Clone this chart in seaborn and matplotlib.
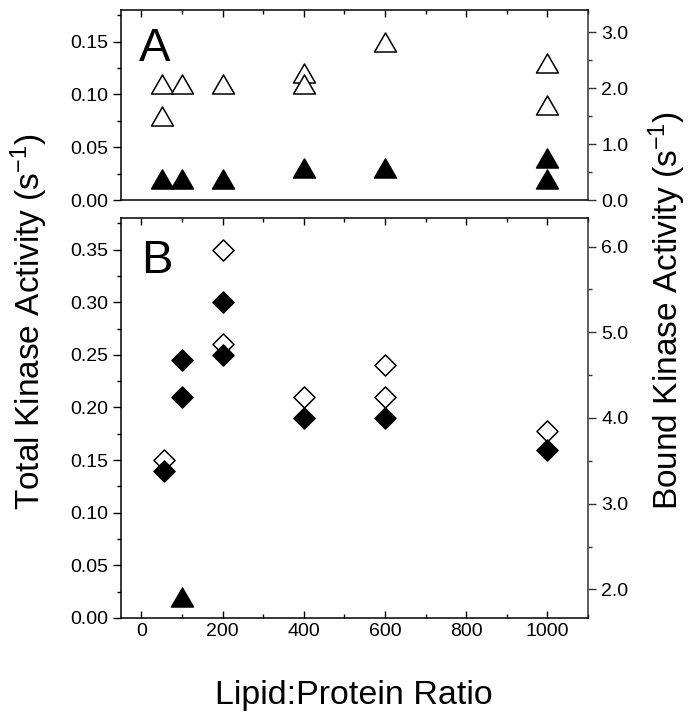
import matplotlib
matplotlib.use('Agg')
import matplotlib.pyplot as plt
import seaborn as sns
from matplotlib.path import Path
from matplotlib.ticker import MultipleLocator, FormatStrFormatter

# panel A: total kinase activity, triangles
ratio_a_open = [50, 50, 100, 200, 400, 400, 600, 1000, 1000]
total_a_open = [0.11, 0.08, 0.11, 0.11, 0.12, 0.11, 0.15, 0.13, 0.09]
ratio_a_filled = [50, 100, 200, 400, 600, 1000, 1000]
total_a_filled = [0.02, 0.02, 0.02, 0.03, 0.03, 0.04, 0.02]

# panel B: diamonds (+ one filled triangle)
ratio_b_open = [57, 200, 200, 400, 600, 600, 1000]
total_b_open = [0.15, 0.35, 0.26, 0.21, 0.24, 0.21, 0.178]
ratio_b_filled = [57, 100, 100, 200, 200, 400, 600, 1000]
total_b_filled = [0.14, 0.245, 0.21, 0.30, 0.25, 0.19, 0.19, 0.16]
ratio_b_tri = [100]
total_b_tri = [0.02]

sns.set_theme(style='ticks')
plt.rcParams['font.family'] = ['Liberation Sans', 'DejaVu Sans']
plt.rcParams['mathtext.fontset'] = 'custom'
plt.rcParams['mathtext.rm'] = 'Liberation Sans'
plt.rcParams['mathtext.it'] = 'Liberation Sans'
for k in ['text.color', 'axes.labelcolor', 'xtick.color', 'ytick.color', 'axes.edgecolor']:
    plt.rcParams[k] = 'black'

tri = Path([(-1, -0.866), (1, -0.866), (0, 0.866), (-1, -0.866)], closed=True)
right_col = '#333333'

fig = plt.figure(figsize=(6.96, 7.2), dpi=100)
ax_a = fig.add_axes([0.1739, 0.7222, 0.6709, 0.2639])
ax_b = fig.add_axes([0.1739, 0.1417, 0.6709, 0.5555])

sns.scatterplot(x=ratio_a_open, y=total_a_open, ax=ax_a, marker=tri, s=250,
                color='white', edgecolor='black', linewidth=1.1, zorder=3)
sns.scatterplot(x=ratio_a_filled, y=total_a_filled, ax=ax_a, marker=tri, s=250,
                color='black', edgecolor='black', linewidth=1.1, zorder=3)

sns.scatterplot(x=ratio_b_open, y=total_b_open, ax=ax_b, marker='D', s=115,
                color='white', edgecolor='black', linewidth=1.1, zorder=3)
sns.scatterplot(x=ratio_b_filled, y=total_b_filled, ax=ax_b, marker='D', s=115,
                color='black', edgecolor='black', linewidth=1.1, zorder=3)
sns.scatterplot(x=ratio_b_tri, y=total_b_tri, ax=ax_b, marker=tri, s=250,
                color='black', edgecolor='black', linewidth=1.1, zorder=3)

for ax, ylim, rlim in [(ax_a, (0, 0.18), (0, 3.4)),
                       (ax_b, (0, 0.38), (1.667, 6.333))]:
    ax.set_xlim(-50, 1100)
    ax.set_ylim(*ylim)
    ax.xaxis.set_major_locator(MultipleLocator(200))
    ax.xaxis.set_minor_locator(MultipleLocator(100))
    ax.yaxis.set_major_locator(MultipleLocator(0.05))
    ax.yaxis.set_minor_locator(MultipleLocator(0.025))
    ax.yaxis.set_major_formatter(FormatStrFormatter('%.2f'))
    ax.tick_params(axis='y', which='both', direction='out', left=True, right=False,
                   labelsize=14, width=1)
    ax.tick_params(axis='y', which='major', length=6)
    ax.tick_params(axis='y', which='minor', length=3)
    ax.tick_params(axis='x', which='both', direction='in', top=True, labelsize=14, width=1)
    ax.tick_params(axis='x', which='major', length=5)
    ax.tick_params(axis='x', which='minor', length=3)
    for sp in ax.spines.values():
        sp.set_visible(True)
        sp.set_linewidth(1.1)
        sp.set_color('black')
    ax.spines['right'].set_color(right_col)
    ax.set_xlabel('')
    ax.set_ylabel('')

    ax2 = ax.twinx()
    ax2.set_ylim(*rlim)
    ax2.yaxis.set_major_locator(MultipleLocator(1))
    ax2.yaxis.set_minor_locator(MultipleLocator(0.5))
    ax2.yaxis.set_major_formatter(FormatStrFormatter('%.1f'))
    ax2.tick_params(axis='y', which='both', direction='out', colors=right_col,
                    labelcolor='black', labelsize=14, width=1)
    ax2.tick_params(axis='y', which='major', length=6)
    ax2.tick_params(axis='y', which='minor', length=3)
    for sp in ax2.spines.values():
        sp.set_visible(False)

ax_a.tick_params(axis='x', which='both', bottom=False, labelbottom=False)
ax_b.tick_params(axis='x', which='both', bottom=True, labelbottom=True)

fig.text(0.2, 1 - 44 / 720, 'A', fontsize=34, ha='left', va='center_baseline')
fig.text(0.203, 1 - 256 / 720, 'B', fontsize=34, ha='left', va='center_baseline')

fig.text(0.042, 1 - 322 / 720, 'Total Kinase Activity (s$^{\\mathregular{-1}}$)',
         rotation=90, ha='center', va='center', fontsize=24)
fig.text(0.958, 1 - 311 / 720, 'Bound Kinase Activity (s$^{\\mathregular{-1}}$)',
         rotation=90, ha='center', va='center', fontsize=24)
fig.text(0.508, 1 - 692 / 720, 'Lipid:Protein Ratio', ha='center', va='center_baseline',
         fontsize=24.5)

fig.savefig('out.png', dpi=100)
